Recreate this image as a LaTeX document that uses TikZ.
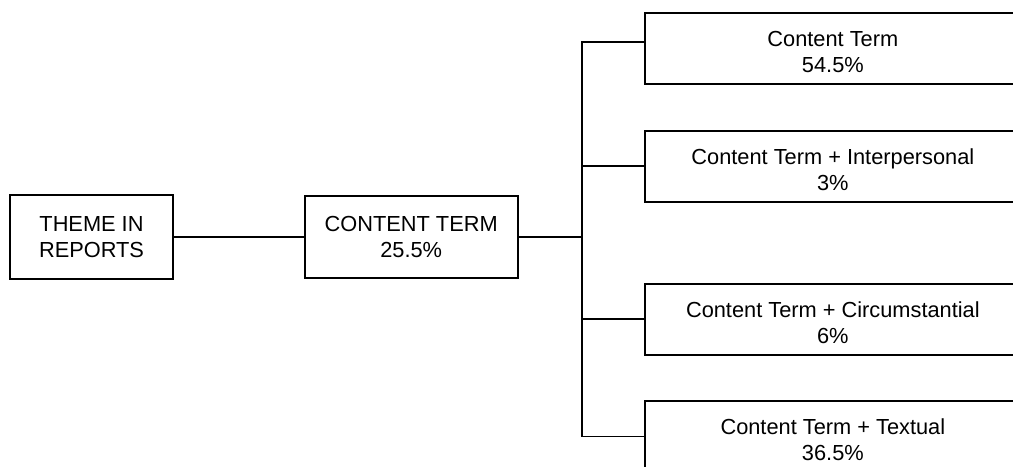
\documentclass[tikz,border=0pt]{standalone}
\usepackage{fontspec}
\setmainfont{Liberation Sans}
\usetikzlibrary{positioning}
\tikzset{every node/.style={font=\fontsize{15.5}{18.5}\selectfont}}

\begin{document}
\begin{tikzpicture}[line width=1.2pt,node distance=3.25cm]
                \tikzstyle{root}=[draw, align=center, minimum height=2.1cm]
                \tikzstyle{leaf}=[draw, align=center, anchor=north west, inner sep=0pt,
                    minimum width=9.4cm, text height=1.5cm, text depth=0.275cm]
                \useasboundingbox (0,0) rectangle (25.325,-11.675);
                \clip (0,0) rectangle (25.325,-11.675);
                \node[root, minimum width=4.075cm] (theme) at (2.2875,-5.925) {THEME IN\\REPORTS};
                \node[root, minimum width=5.325cm, minimum height=2.05cm] (content) [right=of theme] {CONTENT TERM\\25.5\%};
                \node[leaf] (r1) at (16.1,-0.3)   {Content Term\\54.5\%};
                \node[leaf] (r2) at (16.1,-3.25)  {Content Term + Interpersonal\\3\%};
                \node[leaf] (r3) at (16.1,-7.075) {Content Term + Circumstantial\\6\%};
                \node[leaf] (r4) at (16.1,-10.0)  {Content Term + Textual\\36.5\%};
                \coordinate (fork) at (14.55,-6);
                \draw (theme) -- (content);
                \draw (content) -- (content -| fork);
                \draw ([yshift=0.16cm]r1.west) -| (fork) |- (r4.west);
                \foreach \leaf in {r2,r3}
                    \draw (fork |- \leaf.west) -- (\leaf.west);
\end{tikzpicture}
\end{document}
